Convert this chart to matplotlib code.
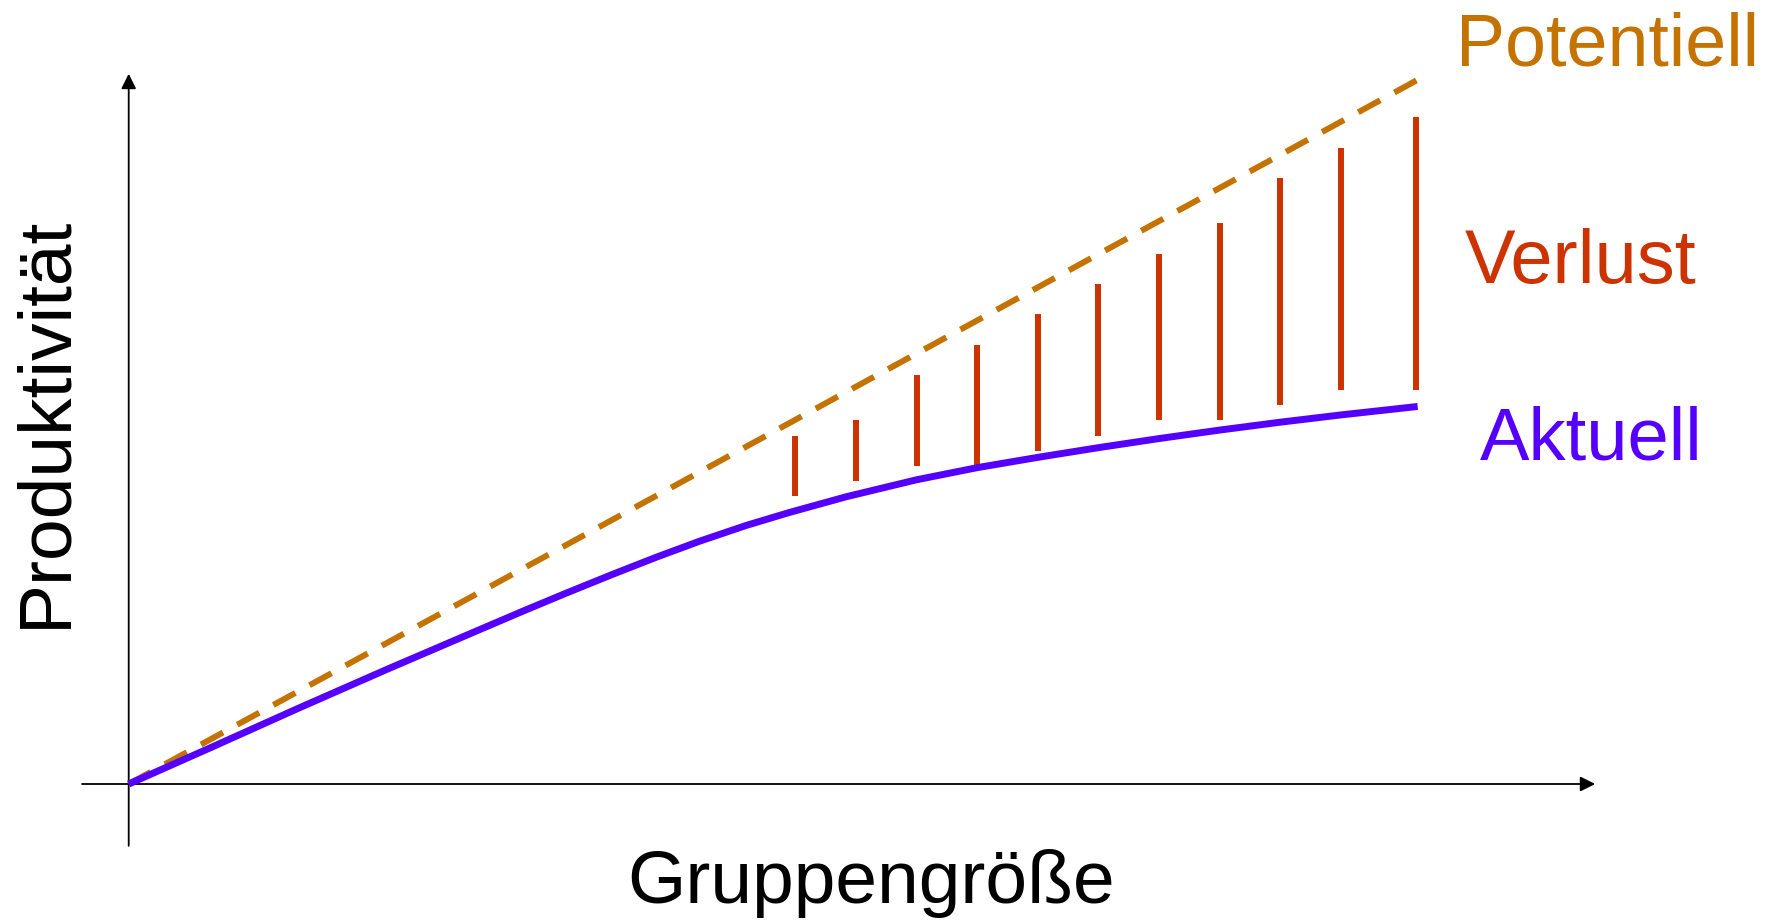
import matplotlib
matplotlib.use("Agg")
from matplotlib import pyplot as plt

plt.rcParams['font.family'] = ['Liberation Sans', 'DejaVu Sans']

# potential productivity (straight dashed line)
pot_x = [0, 21.47]
pot_y = [0, 11.73]

# actual productivity curve
akt_x = [0, 1.33, 2.8, 4.28, 5.75, 6.5, 7.22, 7.96, 8.70, 9.43, 10.2, 10.9,
         11.84, 13.0, 14.0, 15.0, 16.0, 17.0, 18.0, 19.0, 20.0, 21.27]
akt_y = [0, 0.59, 1.25, 1.90, 2.53, 2.85, 3.15, 3.45, 3.74, 4.01, 4.27, 4.48,
         4.74, 5.02, 5.22, 5.39, 5.55, 5.70, 5.84, 5.97, 6.09, 6.23]

# loss bars between the two
loss_x = [11, 12, 13, 14, 15, 16, 17, 18, 19, 20, 21.25]
loss_top = [5.75, 6.0, 6.75, 7.25, 7.75, 8.25, 8.75, 9.25, 10.0, 10.5, 11.0]
loss_bottom = [4.75, 5.0, 5.25, 5.25, 5.5, 5.75, 6.0, 6.0, 6.25, 6.5, 6.5]

labels = ['Potentiell', 'Verlust', 'Aktuell']
xlabel = 'Gruppengröße'
ylabel = 'Produktivität'

c_pot = '#C47300'
c_loss = '#CC3300'
c_akt = '#5500FF'

fig = plt.figure(figsize=(17.7, 9.21), dpi=100)
ax = fig.add_axes([0, 0, 1, 1])
u = 60.6  # pixels per data unit
ax.set_xlim(-128.7 / u, (1770 - 128.7) / u)
ax.set_ylim(-(921 - 784) / u, 784 / u)
ax.axis('off')

# axes with arrows
arrow = dict(arrowstyle='-|>,head_length=0.9,head_width=0.45', color='black',
             lw=1.3, shrinkA=0, shrinkB=0)
ax.annotate('', xy=(24.2, 0), xytext=(-0.77, 0), arrowprops=arrow)
ax.annotate('', xy=(0, 11.72), xytext=(0, -1.02), arrowprops=arrow)

ax.plot(pot_x, pot_y, color=c_pot, lw=4.3, ls=(0, (4.2, 2.7)),
        dash_capstyle='butt', zorder=3)
ax.vlines(loss_x, loss_bottom, loss_top, color=c_loss, lw=4.3, zorder=3)
ax.plot(akt_x, akt_y, color=c_akt, lw=5.0, solid_capstyle='butt',
        solid_joinstyle='round', zorder=4)

ax.text(21.9, 11.86, labels[0], color=c_pot, fontsize=53, ha='left', va='baseline')
ax.text(22.05, 8.27, labels[1], color=c_loss, fontsize=54.5, ha='left', va='baseline')
ax.text(22.3, 5.36, labels[2], color=c_akt, fontsize=53.5, ha='left', va='baseline')

ax.text(12.25, -1.96, xlabel, fontsize=54, ha='center', va='baseline')
ax.text(-1.04, 5.97, ylabel, fontsize=54, rotation=90, rotation_mode='anchor',
        ha='center', va='baseline')

fig.savefig('out.png', dpi=100)
